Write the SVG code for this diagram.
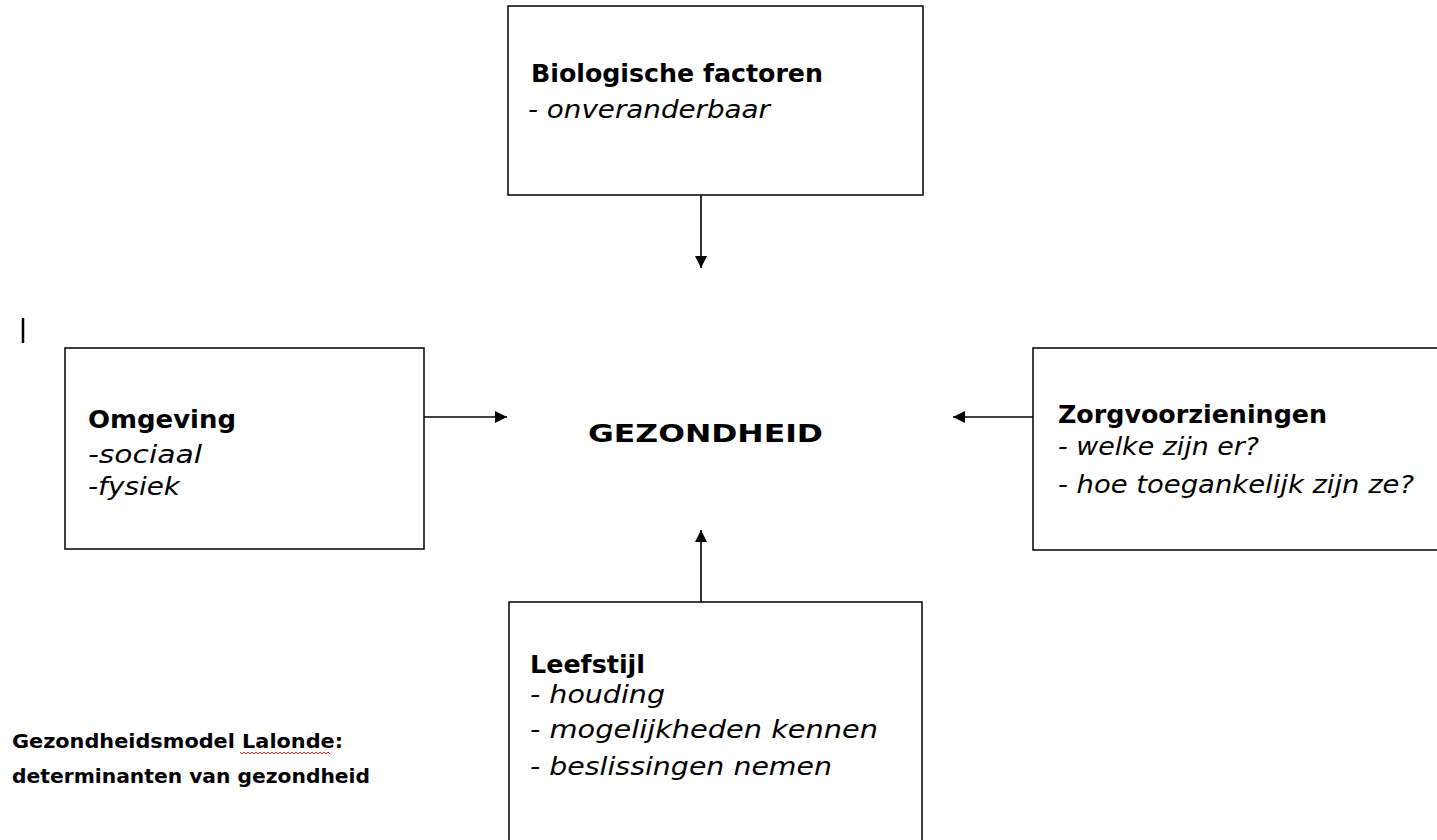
<svg xmlns="http://www.w3.org/2000/svg" width="1437" height="840" viewBox="0 0 1437 840">
<style>
.box{fill:#fff;stroke:#000;stroke-width:1.5}
.t{font-family:"DejaVu Sans","Liberation Sans",Arial,sans-serif;font-size:24px;fill:#000}
.b{font-weight:bold}
.i{font-style:italic}
.c{stroke:#000;stroke-width:1.6;fill:none}
.cap{font-family:"DejaVu Sans Condensed","DejaVu Sans","Liberation Sans",sans-serif;font-size:20px;font-weight:bold;fill:#000}
</style>
<defs>
<marker id="ah" viewBox="0 0 10 10" refX="10" refY="5" markerWidth="12" markerHeight="12" markerUnits="userSpaceOnUse" orient="auto">
<path d="M0,0 L10,5 L0,10 z" fill="#000"/>
</marker>
</defs>
<rect width="1437" height="840" fill="#fff"/>
<line x1="23" y1="318" x2="23" y2="343" stroke="#000" stroke-width="2.5"/>
<g id="biologisch">
<rect class="box" x="508" y="6" width="415" height="189"/>
<text class="t b" x="531" y="82" textLength="292" lengthAdjust="spacingAndGlyphs">Biologische factoren</text>
<text class="t i" x="528" y="118" textLength="242" lengthAdjust="spacingAndGlyphs">- onveranderbaar</text>
</g>
<g id="omgeving">
<rect class="box" x="65" y="348" width="359" height="201"/>
<text class="t b" x="88" y="428" textLength="148" lengthAdjust="spacingAndGlyphs">Omgeving</text>
<text class="t i" x="88" y="463" textLength="114" lengthAdjust="spacingAndGlyphs">-sociaal</text>
<text class="t i" x="88" y="495" textLength="92" lengthAdjust="spacingAndGlyphs">-fysiek</text>
</g>
<g id="gezondheid">
<text class="t b" x="588" y="442" font-size="28" textLength="235" lengthAdjust="spacingAndGlyphs">GEZONDHEID</text>
</g>
<g id="zorg">
<rect class="box" x="1033" y="348" width="420" height="202"/>
<text class="t b" x="1058" y="423" textLength="269" lengthAdjust="spacingAndGlyphs">Zorgvoorzieningen</text>
<text class="t i" x="1058" y="455" textLength="201" lengthAdjust="spacingAndGlyphs">- welke zijn er?</text>
<text class="t i" x="1058" y="493" textLength="356" lengthAdjust="spacingAndGlyphs">- hoe toegankelijk zijn ze?</text>
</g>
<g id="leefstijl">
<rect class="box" x="509" y="602" width="413" height="250"/>
<text class="t b" x="530" y="673" textLength="115" lengthAdjust="spacingAndGlyphs">Leefstijl</text>
<text class="t i" x="530" y="703" textLength="135" lengthAdjust="spacingAndGlyphs">-  houding</text>
<text class="t i" x="530" y="738" textLength="348" lengthAdjust="spacingAndGlyphs">-  mogelijkheden kennen</text>
<text class="t i" x="530" y="775" textLength="302" lengthAdjust="spacingAndGlyphs">-  beslissingen nemen</text>
</g>
<g id="caption">
<text class="cap" x="12" y="748" textLength="331" lengthAdjust="spacingAndGlyphs">Gezondheidsmodel Lalonde:</text>
<text class="cap" x="12" y="783" textLength="358" lengthAdjust="spacingAndGlyphs">determinanten van gezondheid</text>
<path d="M240,752 l2,2 l2,-2 l2,2 l2,-2 l2,2 l2,-2 l2,2 l2,-2 l2,2 l2,-2 l2,2 l2,-2 l2,2 l2,-2 l2,2 l2,-2 l2,2 l2,-2 l2,2 l2,-2 l2,2 l2,-2 l2,2 l2,-2 l2,2 l2,-2 l2,2 l2,-2 l2,2 l2,-2 l2,2 l2,-2 l2,2 l2,-2 l2,2 l2,-2 l2,2 l2,-2 l2,2 l2,-2 l2,2 l2,-2 l2,2 l2,-2 l2,2" fill="none" stroke="#e02020" stroke-width="1"/>
</g>
<g id="connectors">
<line class="c" x1="701" y1="195" x2="701" y2="268" marker-end="url(#ah)"/>
<line class="c" x1="424" y1="417" x2="507" y2="417" marker-end="url(#ah)"/>
<line class="c" x1="1033" y1="417" x2="953" y2="417" marker-end="url(#ah)"/>
<line class="c" x1="701" y1="602" x2="701" y2="530" marker-end="url(#ah)"/>
</g>
</svg>
